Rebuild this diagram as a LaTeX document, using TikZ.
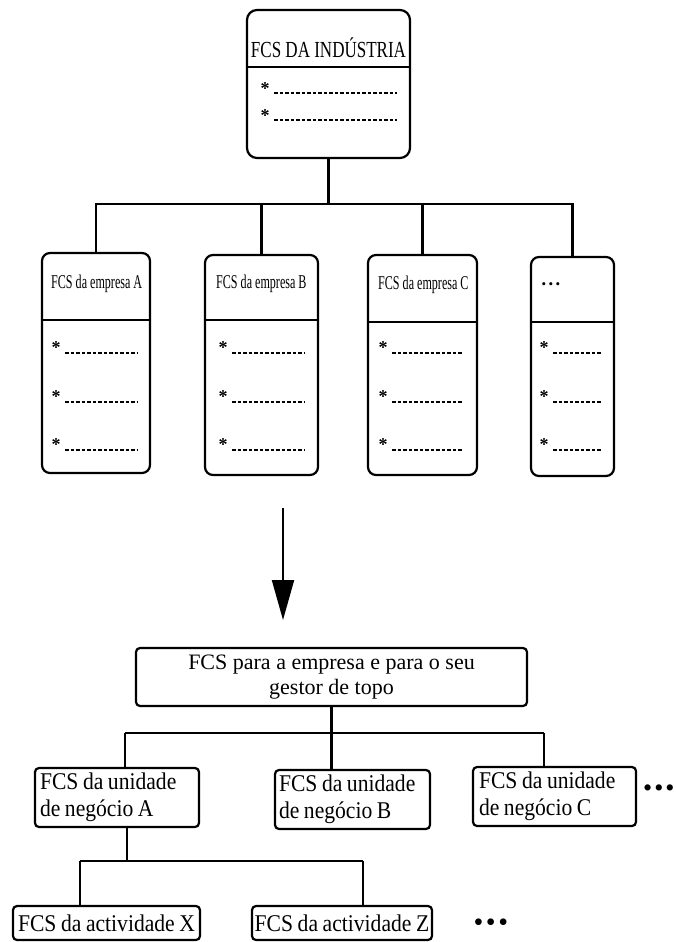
\documentclass[tikz,border=0pt]{standalone}
\usepackage{fontspec}
\setmainfont{Liberation Serif}
\newfontfamily\titlefont[FakeStretch=0.74]{Liberation Serif}
\newfontfamily\firmfont[FakeStretch=0.62]{Liberation Serif}
\newfontfamily\unitfont[FakeStretch=0.9, WordSpace=0.85]{Liberation Serif}
\usetikzlibrary{arrows.meta}

\tikzset{
  link/.style={line width=2.2pt},
  topbox/.style={draw, line width=2.2pt, rounded corners=10pt, inner sep=0pt},
  firmbox/.style={draw, line width=2.2pt, rounded corners=8pt, inner sep=0pt},
  lowbox/.style={draw, line width=2.2pt, rounded corners=4pt},
  fill in/.style={line width=1.1pt, dash pattern=on 3.5pt off 2pt},
  starmark/.style={inner sep=0pt, font=\bfseries\fontsize{18}{18}\selectfont},
  firmtitle/.style={anchor=base west, inner sep=0pt, font=\firmfont\fontsize{19.5}{22}\selectfont},
  unittext/.style={font=\unitfont\fontsize{24}{27}\selectfont},
}

% one blank entry: name, asterisk x, end of the dashed blank, asterisk y, drop of the blank
\newcommand\blankentry[5]{%
  \node[starmark] (#1) at (#2,#4) {*};
  \draw[fill in] ([xshift=4.5pt]#1.east) ++(0,#5) -- (#3,{#4+#5});
}

\begin{document}
\begin{tikzpicture}[x=1pt,y=-1pt]
\useasboundingbox (0,0) rectangle (675,942);

% ---------- industry level ----------
\node[topbox, minimum width=163pt, minimum height=148pt] (ind) at (328.5,84) {};
\node[anchor=base, inner sep=0pt, font=\titlefont\fontsize{23}{26}\selectfont] (indT) at (328.5,57.5) {FCS DA INDÚSTRIA};
\draw[link] (ind.west |- 0,67) -- (ind.east |- 0,67);
\blankentry{i1}{265}{397}{89}{4}
\blankentry{i2}{265}{397}{116}{4}

% ---------- company level ----------
\node[firmbox, minimum width=108pt, minimum height=220pt] (cA) at (96,363) {};
\node[firmbox, minimum width=113pt, minimum height=220pt] (cB) at (261.5,365) {};
\node[firmbox, minimum width=109pt, minimum height=220pt] (cC) at (422.5,365) {};
\node[firmbox, minimum width=83pt, minimum height=219pt] (cD) at (572.5,366.5) {};

\node[firmtitle] (tA) at (51,288.5) {FCS da empresa A};
\node[firmtitle] (tB) at (216,288.5) {FCS da empresa B};
\node[firmtitle] (tC) at (378,289.5) {FCS da empresa C};
\node[anchor=base west, inner sep=0pt, font=\fontsize{13}{13}\selectfont] (tD) at (541.5,288.5) {•\kern2.4pt•\kern2.4pt•};

\draw[link] (cA.west |- 0,320) -- (cA.east |- 0,320);
\draw[link] (cB.west |- 0,320) -- (cB.east |- 0,320);
\draw[link] (cC.west |- 0,322) -- (cC.east |- 0,322);
\draw[link] (cD.west |- 0,322) -- (cD.east |- 0,322);

\blankentry{a1}{56}{137}{348}{5}
\blankentry{a2}{56}{137}{397}{5}
\blankentry{a3}{56}{137}{445}{5}
\blankentry{b1}{223}{304}{348}{5}
\blankentry{b2}{223}{304}{397}{5}
\blankentry{b3}{223}{304}{445}{5}
\blankentry{c1}{383}{463}{348}{5}
\blankentry{c2}{383}{463}{397}{5}
\blankentry{c3}{383}{463}{445}{5}
\blankentry{d1}{544}{601}{348}{5}
\blankentry{d2}{544}{601}{397}{5}
\blankentry{d3}{544}{601}{445}{5}

% industry -> companies
\draw[link] (ind.south) -- ++(0,45) coordinate (jTop);
\draw[link] (cA.north) |- (jTop) -| (cD.north);
\draw[link] (cB.north) -- (cB.north |- jTop);
\draw[link] (cC.north) -- (cC.north |- jTop);

% ---------- transition arrow ----------
\coordinate (arrFrom) at (283,508);
\coordinate (arrTo) at (283,620);
\draw[line width=2pt, -{Triangle[length=40pt,width=22pt]}] (arrFrom) -- (arrTo);

% ---------- firm and its business units ----------
\node[lowbox, minimum width=391pt, minimum height=58pt, align=center,
      font=\fontsize{22}{25}\selectfont] (firm) at (331.5,677)
  {FCS para a empresa e para o seu\\gestor de topo};

\node[lowbox, unittext, inner xsep=5pt, text width=154pt, minimum height=59pt, align=flush left] (uA) at (117,797.5)
  {FCS da unidade\\de negócio A};
\node[lowbox, unittext, inner xsep=4pt, text width=147pt, minimum height=59pt, align=flush left] (uB) at (352.5,799.5)
  {FCS da unidade\\de negócio B};
\node[lowbox, unittext, inner xsep=6pt, text width=151pt, minimum height=59pt, align=flush left] (uC) at (554.5,796.5)
  {FCS da unidade\\de negócio C};
\node[anchor=base west, inner sep=0pt, font=\fontsize{26}{26}\selectfont] (moreU) at (643,796) {•\kern2pt•\kern2pt•};

\coordinate (kA) at (125,733);
\coordinate (kC) at (544,733);
\draw[link] (kA) -- (kC);
\draw[link] (firm.south) -- (firm.south |- kA);
\draw[link] (kA) -- (kA |- uA.north);
\draw[link] (firm.south |- kA) -- (firm.south |- uB.north);
\draw[link] (kC) -- (kC |- uC.north);

% ---------- activities of unit A ----------
\node[lowbox, unittext, inner sep=0pt, minimum width=187pt, minimum height=34pt] (aX) at (106.5,923) {FCS da actividade X};
\node[lowbox, unittext, inner sep=0pt, minimum width=180pt, minimum height=34pt] (aZ) at (342,923) {FCS da actividade Z};
\node[anchor=base west, inner sep=0pt, font=\fontsize{28}{28}\selectfont] (moreA) at (473.5,931.5) {•\kern2.5pt•\kern2.5pt•};

\coordinate (mU) at (127,861);
\coordinate (mX) at (80,861);
\coordinate (mZ) at (363,861);
\draw[link] (mU |- uA.south) -- (mU);
\draw[link] (mX) -- (mZ);
\draw[link] (mX) -- (mX |- aX.north);
\draw[link] (mZ) -- (mZ |- aZ.north);

\end{tikzpicture}
\end{document}
